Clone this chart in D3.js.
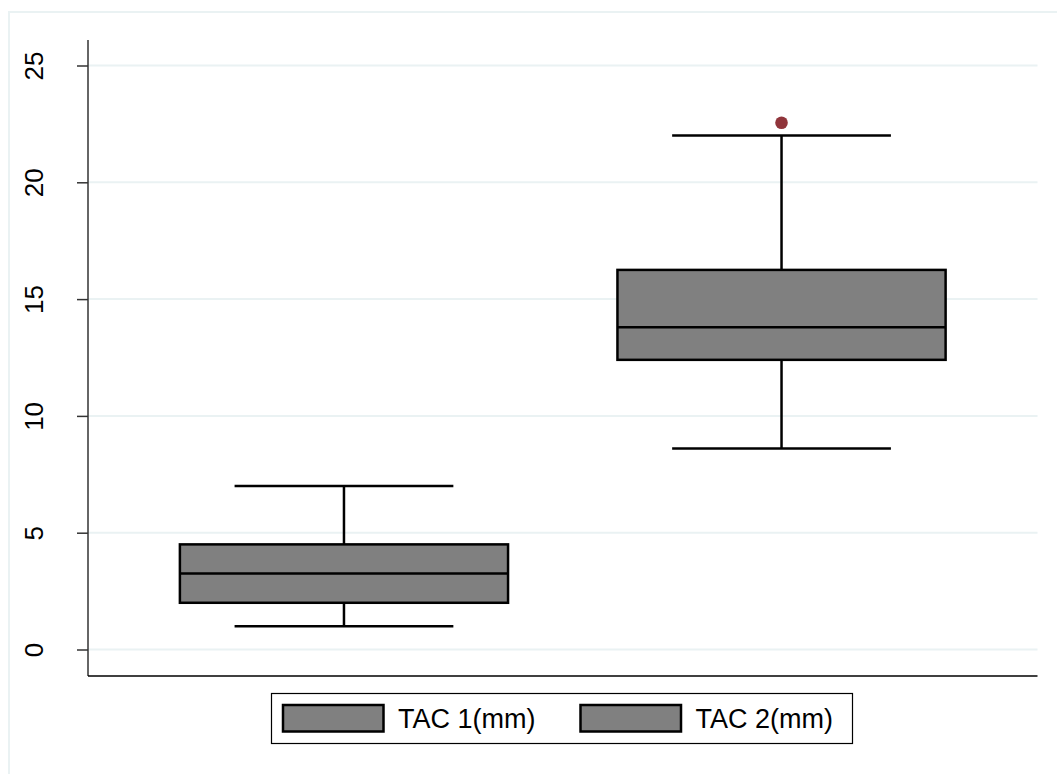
<!DOCTYPE html>
<html lang="en">
<head>
<meta charset="utf-8">
<title>TAC box plot</title>
<script src="https://d3js.org/d3.v7.min.js"></script>
<style>
  body { margin: 0; background: #fff; }
  text { font-family: "Liberation Sans", Arial, sans-serif; }
</style>
</head>
<body>
<script type="text/javascript">
var w = 1057;
var h = 774;

// data
var categories = ["TAC 1(mm)", "TAC 2(mm)"];
var whiskerLow  = [1.0, 8.6];
var q1          = [2.0, 12.4];
var median      = [3.25, 13.8];
var q3          = [4.5, 16.25];
var whiskerHigh = [7.0, 22.0];
var outliers    = [[], [22.55]];
var yTicks = [0, 5, 10, 15, 20, 25];

var boxFill = "#808080";
var outlierColor = "#90353b";
var gridColor = "#eaf2f3";

var plot = {left: 88, right: 1037.5, top: 40, bottom: 676};

var xScale = d3.scaleLinear()
  .domain([0.415, 2.585])
  .range([plot.left, plot.right]);

var yScale = d3.scaleLinear()
  .domain([0, 25])
  .range([649.5, 65.5]);

var svg = d3.select("body")
  .append("svg")
  .attr("width", w)
  .attr("height", h);

// outer frame of graph region
svg.append("rect")
  .attr("x", 9)
  .attr("y", 12)
  .attr("width", w + 20)
  .attr("height", h + 20)
  .attr("fill", "none")
  .attr("stroke", gridColor)
  .attr("stroke-width", 2);

// gridlines
svg.selectAll("line.grid")
  .data(yTicks)
  .enter()
  .append("line")
  .attr("class", "grid")
  .attr("x1", plot.left)
  .attr("x2", plot.right)
  .attr("y1", function(d){ return yScale(d); })
  .attr("y2", function(d){ return yScale(d); })
  .attr("stroke", gridColor)
  .attr("stroke-width", 2);

// y axis
var yAxis = d3.axisLeft(yScale)
  .tickValues(yTicks)
  .tickSize(11)
  .tickPadding(0);

var yg = svg.append("g")
  .attr("transform", "translate(" + plot.left + ",0)")
  .call(yAxis);
yg.select(".domain").remove();
yg.selectAll(".tick line").attr("stroke", "#333").attr("stroke-width", 1.5);
yg.selectAll(".tick text")
  .attr("font-size", "26px")
  .attr("fill", "#000")
  .attr("text-anchor", "middle")
  .attr("transform", "rotate(-90)")
  .attr("x", 0)
  .attr("y", -45)
  .attr("dy", 0);

svg.append("line")
  .attr("x1", plot.left).attr("x2", plot.left)
  .attr("y1", plot.top).attr("y2", plot.bottom)
  .attr("stroke", "#333").attr("stroke-width", 1.5);

// x axis line
svg.append("line")
  .attr("x1", plot.left).attr("x2", plot.right)
  .attr("y1", plot.bottom).attr("y2", plot.bottom)
  .attr("stroke", "#000").attr("stroke-width", 1.5);

var idx = d3.range(categories.length);
var boxHalf = 0.375;
var capHalf = 0.25;

var boxes = svg.selectAll("g.box")
  .data(idx)
  .enter()
  .append("g")
  .attr("class", "box");

// whisker stems
boxes.append("line")
  .attr("x1", function(i){ return xScale(i + 1); })
  .attr("x2", function(i){ return xScale(i + 1); })
  .attr("y1", function(i){ return yScale(whiskerHigh[i]); })
  .attr("y2", function(i){ return yScale(q3[i]); })
  .attr("stroke", "#000").attr("stroke-width", 2.5);
boxes.append("line")
  .attr("x1", function(i){ return xScale(i + 1); })
  .attr("x2", function(i){ return xScale(i + 1); })
  .attr("y1", function(i){ return yScale(q1[i]); })
  .attr("y2", function(i){ return yScale(whiskerLow[i]); })
  .attr("stroke", "#000").attr("stroke-width", 2.5);

// caps
[whiskerHigh, whiskerLow].forEach(function(arr){
  boxes.append("line")
    .attr("x1", function(i){ return xScale(i + 1 - capHalf); })
    .attr("x2", function(i){ return xScale(i + 1 + capHalf); })
    .attr("y1", function(i){ return yScale(arr[i]); })
    .attr("y2", function(i){ return yScale(arr[i]); })
    .attr("stroke", "#000").attr("stroke-width", 2.5);
});

// box
boxes.append("rect")
  .attr("x", function(i){ return xScale(i + 1 - boxHalf); })
  .attr("width", function(i){ return xScale(i + 1 + boxHalf) - xScale(i + 1 - boxHalf); })
  .attr("y", function(i){ return yScale(q3[i]); })
  .attr("height", function(i){ return yScale(q1[i]) - yScale(q3[i]); })
  .attr("fill", boxFill)
  .attr("stroke", "#000")
  .attr("stroke-width", 2.5);

// median
boxes.append("line")
  .attr("x1", function(i){ return xScale(i + 1 - boxHalf); })
  .attr("x2", function(i){ return xScale(i + 1 + boxHalf); })
  .attr("y1", function(i){ return yScale(median[i]); })
  .attr("y2", function(i){ return yScale(median[i]); })
  .attr("stroke", "#000").attr("stroke-width", 2.5);

// outliers
boxes.selectAll("circle")
  .data(function(i){ return outliers[i].map(function(v){ return {i: i, v: v}; }); })
  .enter()
  .append("circle")
  .attr("cx", function(d){ return xScale(d.i + 1); })
  .attr("cy", function(d){ return yScale(d.v); })
  .attr("r", 6.3)
  .attr("fill", outlierColor);

// legend
var legend = svg.append("g");
legend.append("rect")
  .attr("x", 271.5).attr("y", 693.5)
  .attr("width", 581).attr("height", 50)
  .attr("fill", "#fff")
  .attr("stroke", "#000").attr("stroke-width", 1.2);

var keyX = [283, 580.5];
var items = legend.selectAll("g.item")
  .data(idx)
  .enter()
  .append("g")
  .attr("class", "item");
items.append("rect")
  .attr("x", function(i){ return keyX[i]; })
  .attr("y", 705)
  .attr("width", 100.5)
  .attr("height", 26.5)
  .attr("fill", boxFill)
  .attr("stroke", "#000")
  .attr("stroke-width", 2.5);
items.append("text")
  .attr("x", function(i){ return keyX[i] + 115; })
  .attr("y", 728)
  .attr("font-size", "27px")
  .attr("fill", "#000")
  .text(function(i){ return categories[i]; });
</script>
</body>
</html>
